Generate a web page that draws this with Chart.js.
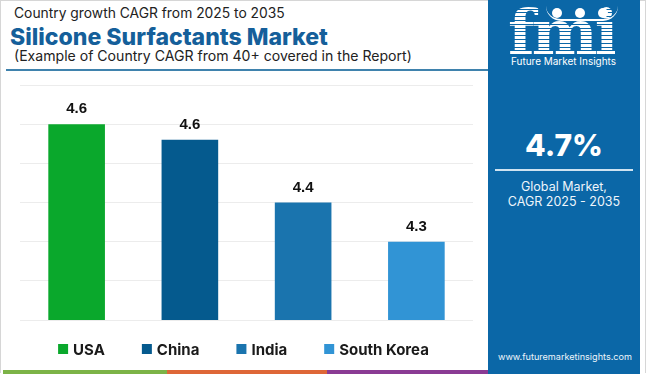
<!DOCTYPE html>
<html>
<head>
<meta charset="utf-8">
<script src="https://cdn.jsdelivr.net/npm/chart.js@4"></script>
<style>
  html, body { margin:0; padding:0; background:#fff; }
  body { width:650px; height:374px; position:relative; overflow:hidden; font-family:"Inter","Open Sans",sans-serif; }
  .frame { position:absolute; left:0; top:0; width:646px; height:373px; border-left:1px solid #d6d6d6; border-top:1px solid #d6d6d6; border-right:1px solid #d6d6d6; box-sizing:border-box; }
  .t { position:absolute; white-space:nowrap; line-height:1; }
  #t1 { left:14px; top:7px; font-size:15px; color:#222; font-weight:400; }
  #t2 { left:10px; top:26px; font-size:24px; color:#155f9a; font-weight:800; }
  #t3 { left:14px; top:49px; font-size:15px; color:#222; font-weight:400; }
  .rule { position:absolute; left:6px; top:69px; width:482px; height:2px; background:#3f82ad; }
  .panel { position:absolute; left:488px; top:0; width:152px; height:374px; background:#0b67a7; }
  .logo { position:absolute; left:20px; top:2px; font-family:"DejaVu Serif","Liberation Serif",serif; font-weight:700; font-size:60px; line-height:1; letter-spacing:-3px; white-space:nowrap;
          background:repeating-linear-gradient(to bottom,#fff 0 2.8px,rgba(11,103,167,0.9) 2.8px 3.8px); -webkit-background-clip:text; background-clip:text; color:transparent; }
  .dot { position:absolute; width:10px; height:10px; border-radius:50%; background:#fff; top:8px; }
  .smile { position:absolute; left:58px; top:6px; width:72px; height:13px; border-bottom:2px solid #fff; border-radius:0 0 40px 40px; }
  .fmi-sub { position:absolute; left:23px; top:55px; font-size:10.5px; color:#fff; white-space:nowrap; }
  .big { position:absolute; left:0; width:152px; top:130px; text-align:center; color:#fff; font-weight:800; font-size:30px; line-height:1; }
  .pline { position:absolute; left:7px; width:138px; top:169px; height:2px; background:#cfe3f1; }
  .gm { position:absolute; left:0; width:152px; top:179px; text-align:center; color:#eef5fb; font-size:12.5px; line-height:15px; }
  .url { position:absolute; left:10px; top:352px; color:#eef5fb; font-size:10.5px; white-space:nowrap; line-height:1; }
  .stripe { position:absolute; top:370px; height:4px; }
  #wrap { position:absolute; left:20px; top:80px; width:453px; height:285px; }
</style>
</head>
<body>
<div class="frame"></div>
<div class="t" id="t1" data-w="271">Country growth CAGR from 2025 to 2035</div>
<div class="t" id="t2" data-w="318">Silicone Surfactants Market</div>
<div class="t" id="t3" data-w="398">(Example of Country CAGR from 40+ covered in the Report)</div>
<div class="rule"></div>

<div class="panel">
  <div class="logo" data-w="107">fmi</div>
  <div class="smile"></div>
  <div class="dot" style="left:64px"></div>
  <div class="dot" style="left:87px"></div>
  <div class="dot" style="left:110px"></div>
  <div class="fmi-sub" data-w="105">Future Market Insights</div>
  <div class="big">4.7%</div>
  <div class="pline"></div>
  <div class="gm">Global Market,<br>CAGR 2025 - 2035</div>
  <div class="url" data-w="134">www.futuremarketinsights.com</div>
</div>

<div class="stripe" style="left:3px;width:164px;background:#7cb347"></div>
<div class="stripe" style="left:167px;width:160px;background:#de6737"></div>
<div class="stripe" style="left:327px;width:161px;background:#8a3b94"></div>

<div id="wrap"><canvas id="c"></canvas></div>

<script>
// ---- data ----
const countries = ["USA", "China", "India", "South Korea"];
const cagrValues = [4.6, 4.56, 4.4, 4.3];
const barColors = ["#0aa82c", "#055a8e", "#1a74ae", "#3194d5"];
const axisMin = 4.1, axisMax = 4.7, axisStep = 0.1;

// fit header texts to measured widths
document.querySelectorAll('[data-w]').forEach(el => {
  const target = +el.dataset.w;
  const fs = parseFloat(getComputedStyle(el).fontSize);
  const w = el.getBoundingClientRect().width;
  if (w > 0) el.style.fontSize = (fs * target / w).toFixed(2) + 'px';
});

const valueLabels = {
  id: 'valueLabels',
  afterDatasetsDraw(chart) {
    const ctx = chart.ctx;
    const meta = chart.getDatasetMeta(0);
    ctx.save();
    ctx.font = 'bold 15px "Liberation Sans", Arial, sans-serif';
    ctx.fillStyle = '#111';
    ctx.textAlign = 'center';
    ctx.textBaseline = 'middle';
    meta.data.forEach((bar, i) => {
      ctx.fillText(cagrValues[i].toFixed(1), bar.x, bar.y - 15);
    });
    ctx.restore();
  }
};

// bottom legend drawn under the chart area
const bottomLegend = {
  id: 'bottomLegend',
  afterDraw(chart) {
    const ctx = chart.ctx;
    const area = chart.chartArea;
    const box = 10, gapText = 5, gapItem = 37;
    ctx.save();
    ctx.font = 'bold 15px Inter, "Open Sans", sans-serif';
    ctx.textBaseline = 'middle';
    ctx.textAlign = 'left';
    const widths = countries.map(c => box + gapText + ctx.measureText(c).width);
    const total = widths.reduce((a, b) => a + b, 0) + gapItem * (countries.length - 1);
    let x = (area.left + area.right) / 2 - total / 2 - 3;
    const y = area.bottom + 29;
    countries.forEach((c, i) => {
      ctx.fillStyle = barColors[i];
      ctx.fillRect(x, y - 5, box, box);
      ctx.fillStyle = '#1a1a1a';
      ctx.fillText(c, x + box + gapText, y + 1);
      x += widths[i] + gapItem;
    });
    ctx.restore();
  }
};

new Chart(document.getElementById('c'), {
  type: 'bar',
  data: {
    labels: countries,
    datasets: [{ data: cagrValues, backgroundColor: barColors, borderWidth: 0,
                 barPercentage: 0.5, categoryPercentage: 1.0 }]
  },
  options: {
    responsive: true, maintainAspectRatio: false, animation: false,
    layout: { padding: { top: 5, left: 0, right: 0, bottom: 45 } },
    plugins: {
      tooltip: { enabled: false },
      legend: { display: false }
    },
    scales: {
      x: { display: false },
      y: {
        min: axisMin, max: axisMax,
        ticks: { display: false, stepSize: axisStep },
        grid: { color: '#ececec', lineWidth: 1, drawTicks: false },
        border: { display: false }
      }
    }
  },
  plugins: [valueLabels, bottomLegend]
});
</script>
</body>
</html>
